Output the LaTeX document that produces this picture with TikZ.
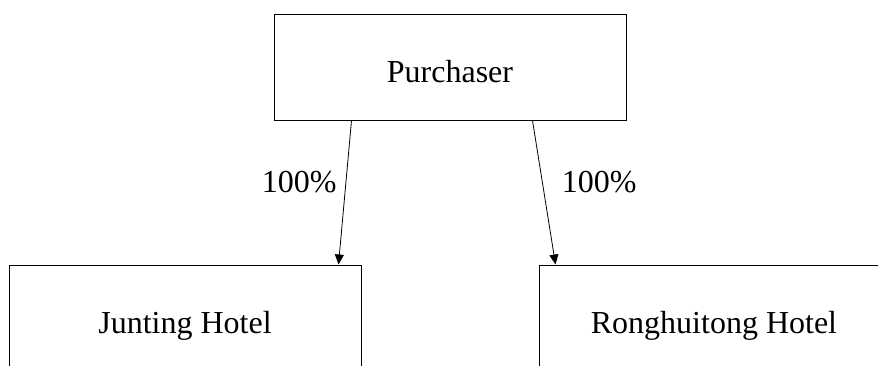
\documentclass[tikz,border=0pt]{standalone}
\usepackage{fontspec}
\setmainfont{Liberation Serif}
\usetikzlibrary{arrows.meta}

\tikzset{
    entitybox/.style={draw, line width=1pt, minimum width=352pt, minimum height=106pt, inner sep=0pt,
        text height=30pt, text depth=0pt},
    owns/.style={-{Triangle[length=10pt,width=9pt]}, line width=0.8pt},
    share/.style={inner sep=0pt}
}

\begin{document}
\begin{tikzpicture}[x=1pt, y=-1pt, font=\fontsize{32}{38}\selectfont]
    % Frame
    \clip (0,0) rectangle (878,365);

    % Boxes
    \node[entitybox] (purchaser) at (450,67) {Purchaser};
    \node[entitybox] (junting) at (185,318) {Junting Hotel};
    \node[entitybox, minimum width=350pt] (ronghuitong) at (714,318) {Ronghuitong Hotel};

    % Ownership arrows
    \draw[owns] ([xshift=78pt]purchaser.south west) -- ([xshift=330pt]junting.north west)
        node[share, pos=0.43, anchor=east, xshift=-9pt] (leftshare) {100\%};
    \draw[owns] ([xshift=259pt]purchaser.south west) -- ([xshift=17pt]ronghuitong.north west)
        node[share, pos=0.43, anchor=west, xshift=19pt] (rightshare) {100\%};
\end{tikzpicture}
\end{document}
